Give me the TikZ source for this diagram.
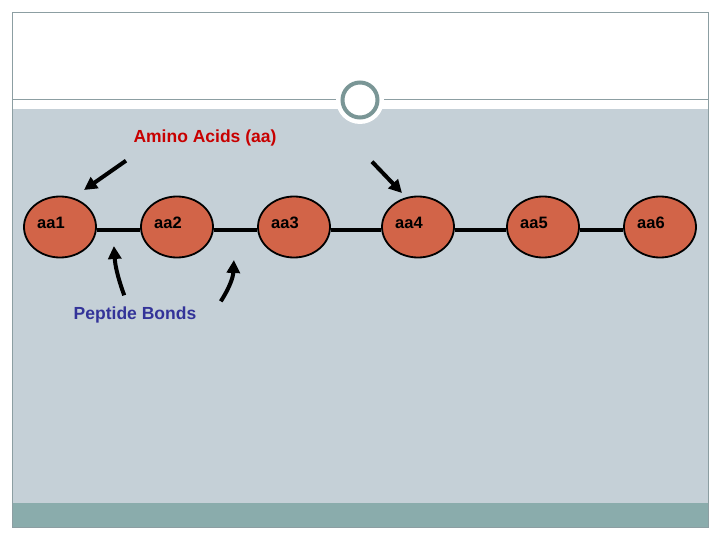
\documentclass[tikz,border=0pt]{standalone}
\usepackage{fontspec}
\setmainfont{Liberation Sans}
\usepackage{tikz}
\usetikzlibrary{shapes.geometric, arrows.meta, calc}
\definecolor{slidegray}{RGB}{197,208,215}
\definecolor{bandteal}{RGB}{138,172,172}
\definecolor{framegray}{RGB}{140,158,162}
\definecolor{ringteal}{RGB}{122,150,150}
\definecolor{aaorange}{RGB}{210,100,72}
\definecolor{aminored}{RGB}{200,0,0}
\definecolor{bondblue}{RGB}{51,51,153}

\begin{document}
\begin{tikzpicture}[x=1pt, y=-1pt,
  aa/.style={ellipse, draw=black, line width=1.8pt, fill=aaorange, minimum width=72pt, minimum height=61pt, inner sep=0pt},
  aatext/.style={font=\fontsize{16.5}{18}\selectfont\bfseries},
  bond/.style={line width=4.5pt},
  pointer/.style={line width=4pt, -{Triangle[length=13pt,width=13pt]}},
  tag/.style={font=\fontsize{17.5}{20}\selectfont\bfseries}]

\useasboundingbox (0,0) rectangle (720,540);

% slide background
\fill[slidegray] (12,109) rectangle (708,503);
\fill[bandteal] (12,503) rectangle (708,527);
\draw[framegray, line width=1pt] (12,100) -- (708,100);
\fill[white] (360,100) circle (24);
\draw[ringteal, line width=4pt, fill=white] (360,100) circle (17.5);
\draw[framegray, line width=0.8pt] (12,12) rectangle (708,527);

% amino acids
\node[aa, label={[aatext, xshift=-9pt, yshift=4pt]center:aa1}] (aa1) at (60,227) {};
\node[aa, label={[aatext, xshift=-9pt, yshift=4pt]center:aa2}] (aa2) at (177,227) {};
\node[aa, label={[aatext, xshift=-9pt, yshift=4pt]center:aa3}] (aa3) at (294,227) {};
\node[aa, label={[aatext, xshift=-9pt, yshift=4pt]center:aa4}] (aa4) at (418,227) {};
\node[aa, label={[aatext, xshift=-9pt, yshift=4pt]center:aa5}] (aa5) at (543,227) {};
\node[aa, label={[aatext, xshift=-9pt, yshift=4pt]center:aa6}] (aa6) at (660,227) {};

% peptide bonds
\draw[bond] ([yshift=-3pt]aa1.east) -- ([yshift=-3pt]aa2.west);
\draw[bond] ([yshift=-3pt]aa2.east) -- ([yshift=-3pt]aa3.west);
\draw[bond] ([yshift=-3pt]aa3.east) -- ([yshift=-3pt]aa4.west);
\draw[bond] ([yshift=-3pt]aa4.east) -- ([yshift=-3pt]aa5.west);
\draw[bond] ([yshift=-3pt]aa5.east) -- ([yshift=-3pt]aa6.west);

% labels
\node[tag, text=aminored] (amino) at (205,138) {Amino Acids (aa)};
\node[tag, text=bondblue] (pept) at (135,315) {Peptide Bonds};

\coordinate (am1) at ($(amino.south west)+(-4,11)$);
\coordinate (am2) at ($(amino.south east)+(92,12)$);
\coordinate (pb1) at ($(pept.north west)+(54,-8)$);
\coordinate (pb2) at ($(pept.north east)+(21,-2)$);

\draw[pointer] (am1) -- ($(aa1.center)+(24,-37)$);
\draw[pointer] (am2) -- ($(aa4.center)+(-16,-34)$);
\draw[pointer] (pb1) to[bend left=8] ($(aa1.east)+(17,19)$);
\draw[pointer] (pb2) to[bend right=15] ($(aa2.east)+(20,33)$);

\end{tikzpicture}
\end{document}
